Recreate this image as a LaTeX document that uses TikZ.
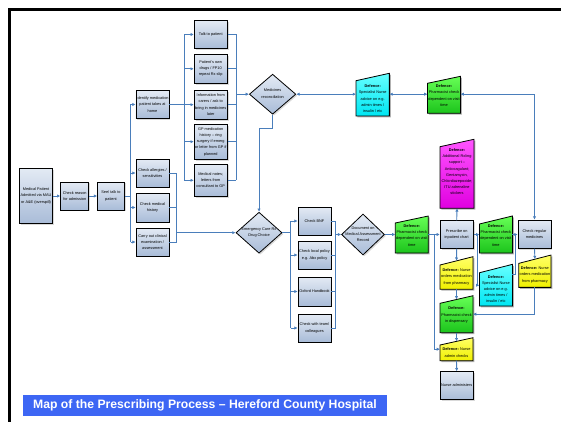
\documentclass[tikz,border=0pt]{standalone}
\usepackage{fontspec}
\setmainfont{Liberation Sans}
\usetikzlibrary{shapes.geometric,arrows.meta,shadows,calc}
\definecolor{linec}{HTML}{4A7EBB}
\definecolor{boxtop}{HTML}{E3EAF4}
\definecolor{boxbot}{HTML}{A9BCD8}
\definecolor{titleblue}{HTML}{3D66F4}
\definecolor{cyt}{HTML}{66FFFF}
\definecolor{cyb}{HTML}{00E6F2}
\definecolor{grt}{HTML}{66FF55}
\definecolor{grb}{HTML}{1CC41C}
\definecolor{yet}{HTML}{FFFF66}
\definecolor{yeb}{HTML}{F0F000}
\definecolor{mgt}{HTML}{FF55FF}
\definecolor{mgb}{HTML}{E000E0}
\tikzset{
  base/.style={font=\fontsize{3.85}{6.2}\selectfont, align=center},
  shad/.style={drop shadow={shadow xshift=1.4pt, shadow yshift=-1.4pt, opacity=0.3}},
  box/.style={base, rectangle, draw=black, line width=0.8pt, top color=boxtop, bottom color=boxbot, inner sep=0.5pt, shad},
  dia/.style={diamond, draw=black, line width=0.8pt, top color=boxtop, bottom color=boxbot, inner sep=0pt, shad},
  lbl/.style={base, inner sep=0pt},
  bb/.style={rectangle, inner sep=0pt, outer sep=0pt},
  conn/.style={draw=linec, line width=0.9pt},
  arr/.style={conn, -{Latex[length=3.3pt,width=3.3pt]}},
  darr/.style={conn, {Latex[length=3.3pt,width=3.3pt]}-{Latex[length=3.3pt,width=3.3pt]}},
  cyf/.style={top color=cyt, bottom color=cyb},
  grf/.style={top color=grt, bottom color=grb},
  yef/.style={top color=yet, bottom color=yeb},
  mgf/.style={top color=mgt, bottom color=mgb},
}
% name, x, y, w, h, slant, fill style, text shift, text
\newcommand\deftrap[9]{%
  \node[bb, minimum width=#4pt, minimum height=#5pt] (#1) at (#2,#3) {};
  \fill[black, opacity=0.3] ([shift={(1.4pt,-1.4pt)}]#1.south west) -- ([shift={(1.4pt,-1.4pt)}]#1.south east) -- ([shift={(1.4pt,-1.4pt)}]#1.north east) -- ([shift={(1.4pt,{-1.4pt-#6pt})}]#1.north west) -- cycle;
  \path[draw=black, line width=0.8pt, #7] (#1.south west) -- (#1.south east) -- (#1.north east) -- ([yshift={-#6pt}]#1.north west) -- cycle;
  \node[lbl] (#1t) at ([yshift={#8pt}]#1.center) {#9};
}
\begin{document}
\begin{tikzpicture}[x=1pt,y=-1pt]
\path[use as bounding box] (0,0) rectangle (561,422);
\draw[line width=2.6pt] (9.5,422) -- (9.5,9.5) -- (561,9.5);

% left chain
\node[box, minimum width=33pt, minimum height=55pt] (mp) at (36,196) {Medical Patient\\Admitted via MAU\\or A\&E (overspill)};
\node[box, minimum width=28pt, minimum height=28pt] (cr) at (74.7,196) {Check reason\\for admission};
\node[box, minimum width=27pt, minimum height=28pt] (st) at (111,196) {See/ talk to\\patient};

\node[box, minimum width=33pt, minimum height=28pt] (idf) at (152.5,104.5) {Identify medication\\patient takes at\\home};
\node[box, minimum width=33pt, minimum height=28pt] (alg) at (152.5,173) {Check allergies /\\sensitivities};
\node[box, minimum width=33pt, minimum height=29pt] (hist) at (152.5,207.5) {Check medical\\history};
\node[box, minimum width=33pt, minimum height=28pt] (carry) at (152.5,242) {Carry out clinical\\examination /\\assessment};

\node[box, minimum width=33pt, minimum height=28pt] (talk) at (210.7,34.5) {Talk to patient};
\node[box, minimum width=33pt, minimum height=29pt] (own) at (210.7,68.8) {Patient's own\\drugs / FP10\\repeat Rx slip};
\node[box, minimum width=33pt, minimum height=29pt] (info) at (210.7,104.7) {Information from\\carers / ask to\\bring in medicines\\later};
\node[box, minimum width=33pt, minimum height=35pt] (gp) at (210.7,141.7) {GP medication\\history -- ring\\surgery if emerg\\or letter from GP if\\planned};
\node[box, minimum width=33pt, minimum height=32.5pt] (notes) at (210.7,180.3) {Medical notes;\\letters from\\consultant to GP};

\node[dia, minimum width=46.5pt, minimum height=40pt] (recon) at (272.6,94.2) {};
\node[lbl] (recont) at (272.6,93.7) {Medicines\\reconciliation};
\node[dia, minimum width=46pt, minimum height=41pt] (emerg) at (259,232.7) {};
\node[lbl] (emergt) at (259,232.2) {Emergency Care Rx\\Drug Choice};

\node[box, minimum width=33pt, minimum height=28pt] (bnf) at (314.5,221) {Check BNF};
\node[box, minimum width=33pt, minimum height=28pt] (pol) at (314.5,255) {Check local policy\\e.g. Abx policy};
\node[box, minimum width=33pt, minimum height=29pt] (oxf) at (314.5,291.5) {Oxford Handbook};
\node[box, minimum width=33pt, minimum height=28pt] (team) at (314.5,328) {Check with team/\\colleagues};

\node[dia, minimum width=43pt, minimum height=41pt] (doc) at (363,234.5) {};
\node[lbl] (doct) at (363,234.2) {Document on\\Medical Assessment\\Record};

\node[box, minimum width=33pt, minimum height=27.6pt] (pres) at (456.7,234.5) {Prescribe on\\inpatient chart};
\node[box, minimum width=33pt, minimum height=28.3pt] (chk) at (534.5,234.2) {Check regular\\medicines};
\node[box, minimum width=33pt, minimum height=27.6pt] (nadm) at (456.7,385.5) {Nurse administers};

% defence boxes
\deftrap{cy1}{372.7}{94.65}{33.3}{42.7}{7.4}{cyf}{-4}{\textbf{Defence:}\\Specialist Nurse\\advice on e.g.\\admin times /\\insulin / etc}
\deftrap{gr1}{444}{94.8}{33}{37}{7}{grf}{-0.8}{\textbf{Defence:}\\Pharmacist check\\dependent on visit\\time}
\deftrap{grA}{411.8}{234.5}{33}{37}{7}{grf}{-1}{\textbf{Defence:}\\Pharmacist check\\dependent on visit\\time}
\deftrap{mag}{457}{173.8}{34}{69}{7.4}{mgf}{2}{\textbf{Defence:}\\Additional Rx/ing\\support --\\Anticoagulant;\\Gentamycin,\\Chlordiazepoxide;\\ITU adrenaline\\stickers}
\deftrap{grB}{495.9}{234.5}{33}{37}{8}{grf}{-1}{\textbf{Defence:}\\Pharmacist check\\dependent on visit\\time}
\deftrap{ye1}{456.5}{273}{33}{32.6}{8.3}{yef}{-4}{\textbf{Defence:} Nurse\\orders medication\\from pharmacy}
\deftrap{cy2}{495.9}{285.2}{33}{41.7}{8.4}{cyf}{-4}{\textbf{Defence:}\\Specialist Nurse\\advice on e.g.\\admin times /\\insulin / etc}
\deftrap{ye3}{534.9}{271.2}{32.2}{32.3}{8.3}{yef}{-3.8}{\textbf{Defence:} Nurse\\orders medication\\from pharmacy}
\deftrap{grD}{456.5}{314.2}{33}{37}{7.6}{grf}{-1}{\textbf{Defence:}\\Pharmacist check\\in dispensary}
\deftrap{yeA}{456.5}{349.2}{33}{23}{7.3}{yef}{-3.4}{\textbf{Defence:} Nurse\\admin checks}

% coordinates for buses
\coordinate (b1) at (130.5,196);
\coordinate (b2) at (176.5,232.7);
\coordinate (b3) at (184.3,104.5);
\coordinate (b4) at (236,94.2);
\coordinate (b5) at (290.5,232.7);
\coordinate (b6) at (335.5,234.5);
\coordinate (v1) at (434.7,234.5);
\coordinate (v2) at (477,234.5);
\coordinate (v3) at (515.3,234.5);
\coordinate (cy2r) at (512.3,274);

% connectors
\draw[arr] (mp) -- (cr);
\draw[arr] (cr) -- (st);
\draw[conn] (st.east) -- (b1);
\draw[conn] (idf.west -| b1) -- (carry.west -| b1);
\foreach \n in {idf,alg,hist,carry} \draw[arr] (\n.west -| b1) -- (\n.west);
\foreach \n in {alg,hist,carry} \draw[conn] (\n.east) -- (\n.east -| b2);
\draw[conn] (alg.east -| b2) -- (carry.east -| b2);
\draw[arr] (b2) -- (emerg.west);

\draw[conn] (idf.east) -- (b3);
\draw[conn] (talk.west -| b3) -- (notes.west -| b3);
\foreach \n in {talk,own,info,gp,notes} \draw[arr] (\n.west -| b3) -- (\n.west);
\foreach \n in {talk,own,info,gp,notes} \draw[conn] (\n.east) -- (\n.east -| b4);
\draw[conn] (talk.east -| b4) -- (notes.east -| b4);
\draw[arr] (b4) -- (recon.west);

\draw[arr] (recon.south) -- ++(0,14) -| (emerg.north);
\draw[darr] (recon.east) -- (cy1.west |- recon.east);
\draw[darr] (cy1.east |- recon.east) -- (gr1.west |- recon.east);
\draw[darr] (gr1.east |- recon.east) -- (chk.north |- recon.east) -- (chk.north);

\draw[conn] (emerg.east) -- (b5);
\draw[conn] (bnf.west -| b5) -- (team.west -| b5);
\foreach \n in {bnf,pol,oxf,team} \draw[arr] (\n.west -| b5) -- (\n.west);
\foreach \n in {bnf,pol,oxf,team} \draw[conn] (\n.east) -- (\n.east -| b6);
\draw[conn] (bnf.east -| b6) -- (team.east -| b6);
\draw[arr] (b6) -- (doc.west);

\draw[arr] (doc.east) -- (grA.west |- doc.east);
\draw[arr] (grA.east |- doc.east) -- (pres.west);
\draw[arr] (v1) |- (yeA.west);
\draw[arr] (pres.north) -- (mag.south);
\draw[arr] (pres.south) -- ([yshift=-4.1pt]ye1.north);
\draw[arr] (ye1.south) -- ([yshift=-3.8pt]grD.north);
\draw[arr] (pres.east) -- (grB.west |- pres.east);
\draw[arr] (v2) |- (cy2.west);
\draw[arr] (grB.east |- pres.east) -- (chk.west |- pres.east);
\draw[conn] (v3) |- (cy2r);
\draw[arr] (chk.south) -- ([yshift=-4.1pt]ye3.north);
\draw[arr] (ye3.south) |- (grD.east);
\draw[arr] (grD.south) -- ([yshift=-3.6pt]yeA.north);
\draw[arr] (yeA.south) -- (nadm.north);

% title
\node[fill=titleblue, minimum width=364pt, minimum height=21pt, inner sep=0pt, text=white, font=\fontsize{12.2}{14}\selectfont\bfseries] (title) at (205,405.5) {Map of the Prescribing Process -- Hereford County Hospital};
\end{tikzpicture}
\end{document}
